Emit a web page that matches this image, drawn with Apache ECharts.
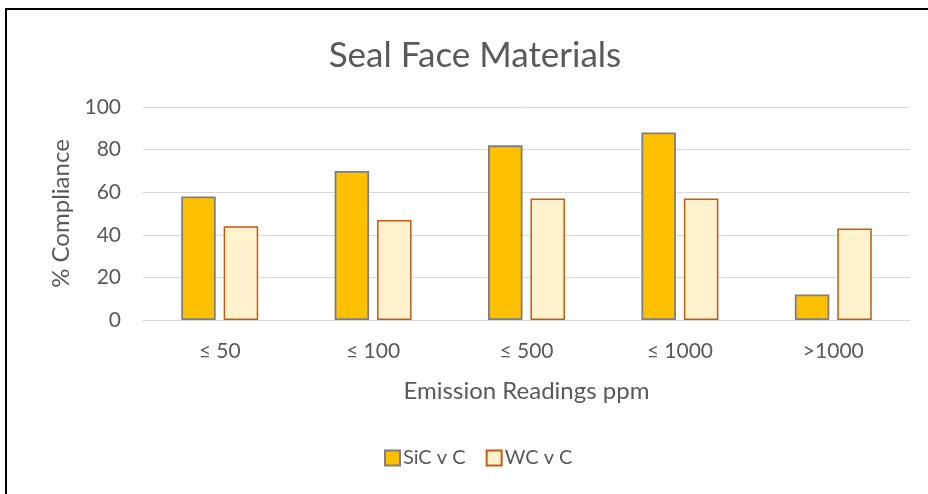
<!DOCTYPE html>
<html>
<head>
<meta charset="utf-8">
<script src="https://cdn.jsdelivr.net/npm/echarts@6/dist/echarts.min.js"></script>
<style>
  html, body { margin: 0; padding: 0; background: #fff; }
  #chart { width: 928px; height: 494px; }
</style>
</head>
<body>
<div id="chart"></div>
<script>
// Emission reading bands and compliance percentages per seal face pairing
const categories = ['≤ 50', '≤ 100', '≤ 500', '≤ 1000', '>1000'];
const sicValues = [58, 70, 82, 88, 12];
const wcValues = [44, 47, 57, 57, 43];
const yTicks = { min: 0, max: 100, interval: 20 };

const FONT = 'Lato, "Noto Sans", sans-serif';
const TEXT = '#595959';

const chart = echarts.init(document.getElementById('chart'), null, { renderer: 'canvas' });

chart.setOption({
  backgroundColor: '#ffffff',
  animation: false,
  title: {
    text: 'Seal Face Materials',
    left: 470,
    top: 33,
    textAlign: 'center',
    textStyle: { fontFamily: FONT, fontSize: 35, fontWeight: 'normal', color: TEXT }
  },
  legend: {
    bottom: 21,
    left: 379,
    itemWidth: 15,
    itemHeight: 15,
    itemGap: 20,
    icon: 'rect',
    textStyle: { fontFamily: FONT, fontSize: 20, color: TEXT, padding: [0, 0, 0, -2] },
    data: ['SiC v C', 'WC v C']
  },
  grid: { left: 143, right: 18, top: 107, bottom: 174, containLabel: false },
  xAxis: {
    type: 'category',
    data: categories,
    name: 'Emission Readings ppm',
    nameLocation: 'middle',
    nameGap: 59,
    nameTextStyle: { fontFamily: FONT, fontSize: 24, color: TEXT },
    axisLine: { show: true, lineStyle: { color: '#d9d9d9', width: 1 } },
    axisTick: { show: false },
    axisLabel: { fontFamily: FONT, fontSize: 21, color: TEXT, margin: 21 }
  },
  yAxis: {
    type: 'value',
    min: yTicks.min,
    max: yTicks.max,
    interval: yTicks.interval,
    name: '% Compliance',
    nameLocation: 'middle',
    nameGap: 70,
    nameRotate: 90,
    nameTextStyle: { fontFamily: FONT, fontSize: 24, color: TEXT },
    axisLine: { show: false },
    axisTick: { show: false },
    axisLabel: { fontFamily: FONT, fontSize: 21, color: TEXT, margin: 22 },
    splitLine: { lineStyle: { color: '#d9d9d9', width: 1 } }
  },
  series: [
    {
      name: 'SiC v C',
      type: 'bar',
      data: sicValues,
      barWidth: '22.5%',
      barGap: '23%',
      itemStyle: { color: '#FFC000', borderColor: '#7f7f7f', borderWidth: 1.8 }
    },
    {
      name: 'WC v C',
      type: 'bar',
      data: wcValues,
      barWidth: '22.5%',
      itemStyle: { color: '#FFF2CC', borderColor: '#C55A11', borderWidth: 1.5 }
    }
  ],
  graphic: [
    {
      type: 'polyline',
      shape: { points: [[6, 494], [6, 9], [928, 9]] },
      style: { stroke: '#000', lineWidth: 2, fill: null }
    }
  ]
});
</script>
</body>
</html>
